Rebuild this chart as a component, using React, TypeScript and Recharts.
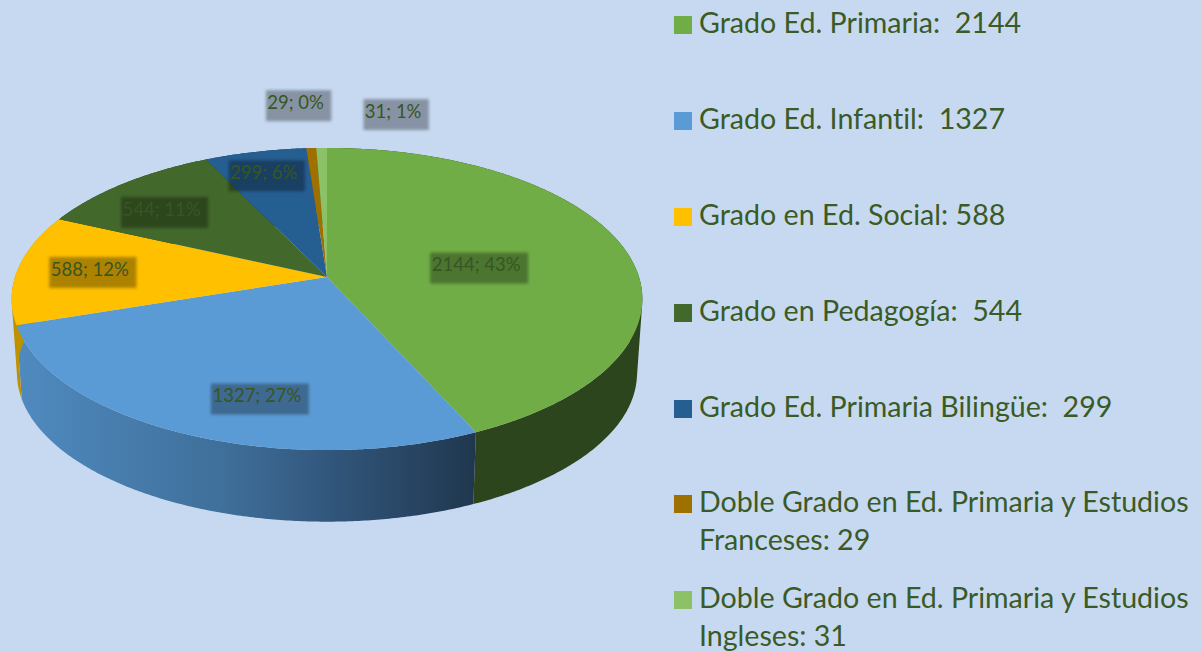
import React from 'react';
import { PieChart, Pie, Legend } from 'recharts';

const categories = [
  'Grado Ed. Primaria:  2144',
  'Grado Ed. Infantil:  1327',
  'Grado en Ed. Social: 588',
  'Grado en Pedagogía:  544',
  'Grado Ed. Primaria Bilingüe:  299',
  'Doble Grado en Ed. Primaria y Estudios Franceses: 29',
  'Doble Grado en Ed. Primaria y Estudios Ingleses: 31',
];
const values = [2144, 1327, 588, 544, 299, 29, 31];
const percentLabels = [43, 27, 12, 11, 6, 0, 1];

const COLORS = ['#70AD47', '#5B9BD5', '#FFC000', '#43682B', '#255E91', '#9E7000', '#8CC168'];
const SIDE_COLORS = ['#2D451C', 'url(#blueSide)', '#BF9000', '#28401A', '#163A5A', '#6B4C00', '#55753F'];

// label position, relative to the slice middle at half radius
const LABEL_NUDGE = [
  [2, 6],
  [0, 49],
  [-79, -1],
  [-56, -16],
  [-22, -35],
  [-20, -103],
  [72, -94],
];

const topData = categories.map((name, i) => ({ name, value: values[i], fill: COLORS[i] }));
const sideData = categories.map((name, i) => ({ name, value: values[i], fill: SIDE_COLORS[i] }));

// Excel style 3D pie: the flat circle goes through a perspective projection
const CX = 327;
const CY_TOP = 277;
const CY_BOTTOM = 351.5;
const R_TOP = 312;
const R_BOTTOM = 306.7;
const TILT = 0.474;
const PERSPECTIVE = 0.1457;

const RAD = Math.PI / 180;

function project(angle: number, cy: number, r: number, frac = 1) {
  const c = Math.cos(angle * RAD);
  const s = Math.sin(angle * RAD);
  const w = 1 + PERSPECTIVE * frac * s;
  return [CX + (frac * r * c) / w, cy - (frac * r * TILT * s) / w];
}

function arcPoints(from: number, to: number, cy: number, r: number) {
  const n = Math.max(2, Math.ceil(Math.abs(to - from) * 2));
  const pts: number[][] = [];
  for (let i = 0; i <= n; i++) {
    pts.push(project(from + ((to - from) * i) / n, cy, r));
  }
  return pts;
}

const toPath = (pts: number[][]) =>
  'M' + pts.map((p) => p[0].toFixed(2) + ',' + p[1].toFixed(2)).join('L') + 'Z';

function TopSlice(props: any) {
  const pts = [[CX, CY_TOP], ...arcPoints(props.startAngle, props.endAngle, CY_TOP, R_TOP)];
  return <path d={toPath(pts)} fill={props.fill} />;
}

// the wall is a strip of small quads, all wound the same way so they fill as a union
function SideSlice(props: any) {
  const top = arcPoints(props.startAngle, props.endAngle, CY_TOP, R_TOP);
  const bottom = arcPoints(props.startAngle, props.endAngle, CY_BOTTOM, R_BOTTOM);
  let d = '';
  for (let i = 0; i < top.length - 1; i++) {
    const quad = [top[i], top[i + 1], bottom[i + 1], bottom[i]];
    let area = 0;
    quad.forEach((p, k) => {
      const q = quad[(k + 1) % 4];
      area += p[0] * q[1] - q[0] * p[1];
    });
    d += toPath(area < 0 ? quad.reverse() : quad);
  }
  return <path d={d} fill={props.fill} />;
}

function SliceLabel(props: any) {
  const { midAngle, value, index } = props;
  const text = `${value}; ${percentLabels[index]}%`;
  const [px, py] = project(midAngle, CY_TOP, R_TOP, 0.5);
  const x = px + LABEL_NUDGE[index][0];
  const y = py + LABEL_NUDGE[index][1];
  const w = text.length * 10.9;
  return (
    <g>
      <rect x={x - w / 2} y={y - 15} width={w} height={31} fill="rgba(0,0,0,0.32)" filter="url(#labelBlur)" />
      <text
        x={x - 3}
        y={y - 1}
        textAnchor="middle"
        dominantBaseline="middle"
        fontSize={18.5}
        fontFamily="Lato"
        fill="#375623"
        style={{ fontVariantLigatures: 'none' }}
      >
        {text}
      </text>
    </g>
  );
}

function LegendList({ payload }: any) {
  const rows = (payload || []).filter((entry: any) => COLORS.includes(entry.color));
  return (
    <div style={{ position: 'relative', width: 525, height: 651 }}>
      {rows.map((entry: any, i: number) => (
        <div key={i} style={{ position: 'absolute', left: 0, top: Math.ceil(3 + i * 95.8), width: 525, height: 76 }}>
          <div style={{ position: 'absolute', left: 7, top: 13, width: 18, height: 18, background: entry.color }} />
          <div
            style={{
              position: 'absolute',
              left: 32,
              top: 0,
              width: 495,
              fontFamily: 'Lato',
              fontSize: 28.6,
              lineHeight: '38px',
              color: '#3A5A26',
              whiteSpace: 'pre-wrap',
              fontVariantLigatures: 'none',
            }}
          >
            {entry.value}
          </div>
        </div>
      ))}
    </div>
  );
}

export default function App() {
  return (
    <div style={{ position: 'absolute', left: 0, top: 0, width: 1201, height: 651, background: '#C7D9F1', overflow: 'hidden' }}>
      <PieChart width={1201} height={651} margin={{ top: 0, right: 0, bottom: 0, left: 0 }}>
        <defs>
          <linearGradient id="blueSide" gradientUnits="userSpaceOnUse" x1="20" y1="0" x2="473" y2="0">
            <stop offset="0%" stopColor="#4F8ABF" />
            <stop offset="45%" stopColor="#3F6F9A" />
            <stop offset="70%" stopColor="#31557A" />
            <stop offset="100%" stopColor="#20384F" />
          </linearGradient>
          <filter id="labelBlur" x="-10%" y="-20%" width="120%" height="140%">
            <feGaussianBlur stdDeviation="1.6" />
          </filter>
        </defs>
        <Pie
          data={sideData}
          dataKey="value"
          nameKey="name"
          cx={CX}
          cy={CY_BOTTOM}
          outerRadius={R_BOTTOM}
          startAngle={90}
          endAngle={-270}
          stroke="none"
          legendType="none"
          shape={SideSlice}
          isAnimationActive={false}
        />
        <Pie
          data={topData}
          dataKey="value"
          nameKey="name"
          cx={CX}
          cy={CY_TOP}
          outerRadius={R_TOP}
          startAngle={90}
          endAngle={-270}
          stroke="none"
          shape={TopSlice}
          label={SliceLabel}
          labelLine={false}
          isAnimationActive={false}
        />
        <Legend
          layout="vertical"
          content={LegendList}
          itemSorter={null}
          wrapperStyle={{ position: 'absolute', left: 667, top: 0, width: 525, height: 651 }}
        />
      </PieChart>
    </div>
  );
}
